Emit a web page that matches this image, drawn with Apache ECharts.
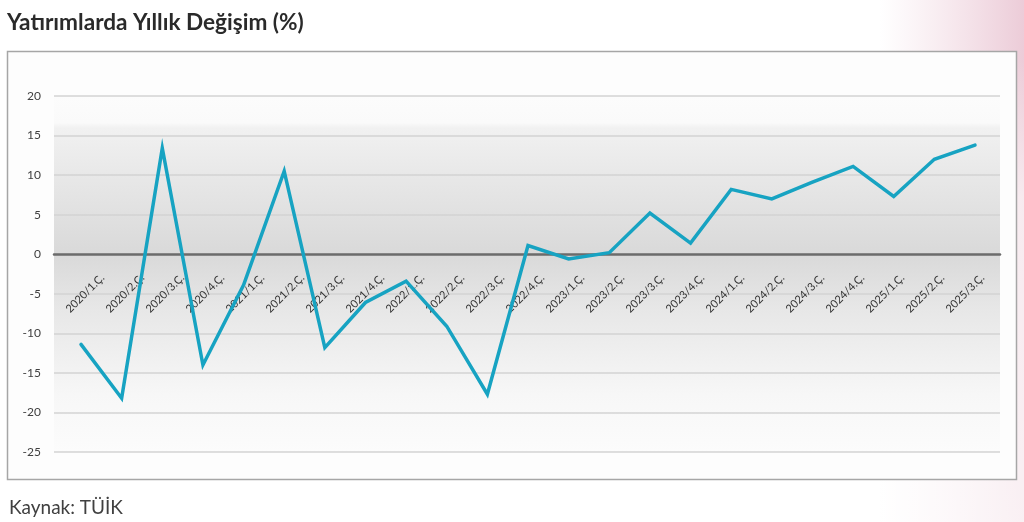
<!DOCTYPE html>
<html>
<head>
<meta charset="utf-8">
<script src="https://cdn.jsdelivr.net/npm/echarts@6/dist/echarts.min.js"></script>
<style>
html,body{margin:0;padding:0;background:#ffffff;}
#chart{width:1024px;height:522px;}
</style>
</head>
<body>
<div id="chart"></div>
<script>
const categories = ["2020/1.Ç.","2020/2.Ç.","2020/3.Ç.","2020/4.Ç.","2021/1.Ç.","2021/2.Ç.","2021/3.Ç.","2021/4.Ç.","2022/1.Ç.","2022/2.Ç.","2022/3.Ç.","2022/4.Ç.","2023/1.Ç.","2023/2.Ç.","2023/3.Ç.","2023/4.Ç.","2024/1.Ç.","2024/2.Ç.","2024/3.Ç.","2024/4.Ç.","2025/1.Ç.","2025/2.Ç.","2025/3.Ç."];
const values = [-11.4,-18.2,13.4,-14.0,-3.9,10.5,-11.8,-6.1,-3.4,-9.1,-17.7,1.1,-0.6,0.2,5.2,1.4,8.2,7.0,9.1,11.1,7.3,12.0,13.8];
const yMin = -25, yMax = 20, yStep = 5;
const titleText = "Yatırımlarda Yıllık Değişim (%)";
const sourceText = "Kaynak: TÜİK";

const chart = echarts.init(document.getElementById('chart'), null, {renderer:'canvas'});
const fam = 'Lato, "Open Sans", sans-serif';
const option = {
  animation:false,
  backgroundColor:'#ffffff',
  title:[
    {text:titleText,left:7,top:11,padding:0,textStyle:{fontFamily:fam,fontWeight:'bold',fontSize:22.6,color:'#2a2a2a'}},
    {text:sourceText,left:9,top:498,padding:0,textStyle:{fontFamily:fam,fontWeight:'normal',fontSize:19,color:'#404040'}}
  ],
  graphic:[
    {type:'rect',z:-20,silent:true,shape:{x:880,y:0,width:144,height:522},
     style:{fill:{type:'linear',x:0,y:0,x2:1,y2:0,colorStops:[{offset:0,color:'rgba(240,214,224,0)'},{offset:1,color:'rgba(236,204,216,1)'}]}}},
    {type:'rect',z:-20,silent:true,shape:{x:880,y:60,width:144,height:462},
     style:{fill:{type:'linear',x:0,y:0,x2:0,y2:1,colorStops:[{offset:0,color:'rgba(255,255,255,0)'},{offset:0.3,color:'rgba(255,255,255,0.6)'},{offset:1,color:'rgba(255,255,255,0.7)'}]}}},
    {type:'rect',z:-10,silent:true,shape:{x:7.5,y:51.5,width:1009,height:428},
     style:{fill:'#fdfdfd',stroke:'#a6a6a6',lineWidth:1.5}}
  ],
  grid:[
    {left:54,right:24,top:96,bottom:70,show:true,borderWidth:0,
     backgroundColor:{type:'linear',x:0,y:0,x2:0,y2:1,colorStops:[
       {offset:0,color:'#fcfcfc'},{offset:0.075,color:'#fafafa'},{offset:0.09,color:'#f1f1f1'},
       {offset:0.444,color:'#d9d9d9'},{offset:0.6,color:'#e7e7e7'},{offset:0.84,color:'#f7f7f7'},{offset:1,color:'#fcfcfc'}]}},
    {left:60.7,right:28.7,top:96,bottom:70},
    {left:82.5,right:21.5,top:96,bottom:70}
  ],
  xAxis:[
    {type:'category',gridIndex:0,data:categories,boundaryGap:true,
     axisLine:{show:true,onZero:true,lineStyle:{color:'#6b6b6b',width:2.5}},
     axisTick:{show:false},axisLabel:{show:false},splitLine:{show:false}},
    {type:'category',gridIndex:1,data:categories,boundaryGap:true,show:false},
    {type:'category',gridIndex:2,data:categories,boundaryGap:true,position:'bottom',offset:-198,
     axisLine:{show:false,onZero:false},
     axisTick:{show:false},splitLine:{show:false},
     axisLabel:{show:true,interval:0,rotate:45,margin:22,fontFamily:fam,fontSize:11,color:'#333333'}}
  ],
  yAxis:[
    {type:'value',gridIndex:0,min:yMin,max:yMax,interval:yStep,
     axisLine:{show:false},axisTick:{show:false},
     axisLabel:{margin:13,fontFamily:fam,fontSize:12,color:'#404040'},
     splitLine:{show:true,lineStyle:{color:'#d3d3d3',width:1.5}}},
    {type:'value',gridIndex:1,min:yMin,max:yMax,interval:yStep,show:false},
    {type:'value',gridIndex:2,min:yMin,max:yMax,interval:yStep,show:false}
  ],
  series:[
    {type:'line',xAxisIndex:1,yAxisIndex:1,data:values,showSymbol:false,symbol:'none',z:10,
     lineStyle:{color:'#17a3c2',width:3.5,cap:'round',join:'miter'}}
  ]
};
chart.setOption(option);
</script>
</body>
</html>
